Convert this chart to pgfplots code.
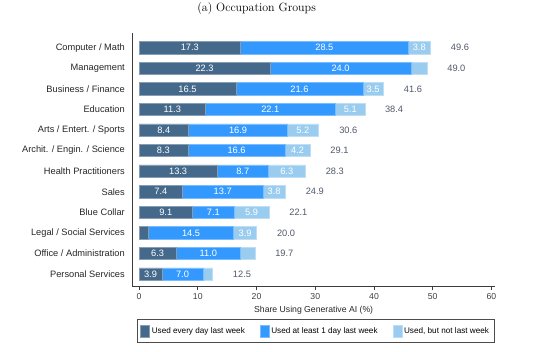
\documentclass[border=0pt]{standalone}
\usepackage{fontspec}
\usepackage{pgfplots}
\usepackage{pgfplotstable}
\pgfplotsset{compat=1.18}
\newfontfamily\arial{Liberation Sans}
\definecolor{cDark}{RGB}{69,105,139}
\definecolor{cMid}{RGB}{51,153,255}
\definecolor{cLight}{RGB}{153,204,238}
\definecolor{cTot}{RGB}{80,88,105}
\definecolor{cAxis}{RGB}{60,60,60}

\pgfplotstableread{
y a b c tot
11 17.3 28.5 3.8 49.6
10 22.3 24.0 2.7 49.0
9 16.5 21.6 3.5 41.6
8 11.3 22.1 5.1 38.4
7 8.4 16.9 5.2 30.6
6 8.3 16.6 4.2 29.1
5 13.3 8.7 6.3 28.3
4 7.4 13.7 3.8 24.9
3 9.1 7.1 5.9 22.1
2 1.6 14.5 3.9 20.0
1 6.3 11.0 2.4 19.7
0 3.9 7.0 1.6 12.5
}\occdata

\pgfplotsset{
  geom/.style={
    anchor=south west,
    scale only axis, width=362.7bp, height=253bp,
    xmin=-1.15, xmax=60.6, ymin=-0.583, ymax=11.714,
  },
  /pgf/number format/assume math mode=true,
}

\begin{document}
\begin{tikzpicture}[x=1bp,y=1bp]
\path[use as bounding box] (-132.3,-65) rectangle (421.7,286);
\node[font=\fontsize{12}{14}\selectfont] at (124.3,277.6) {(a) Occupation Groups};

\begin{axis}[geom,
  xbar stacked, bar width=0.6,
  axis x line*=bottom, axis y line*=left,
  axis line style={cAxis, line width=0.6bp},
  xtick={0,10,...,60}, tick align=outside, major tick length=4bp,
  xtick style={cAxis, line width=0.6bp},
  ytick={0,...,11}, ytick style={draw=none},
  yticklabels={Personal Services, Office / Administration, Legal / Social Services, Blue Collar, Sales, Health Practitioners, Archit. / Engin. / Science, Arts / Entert. / Sports, Education, Business / Finance, Management, Computer / Math},
  yticklabel style={font=\arial\fontsize{9.3}{11}\selectfont, text=black!85},
  xticklabel style={font=\arial\fontsize{8.7}{10}\selectfont, text=black!75},
  xlabel={Share Using Generative AI (\%)},
  xlabel style={font=\arial\fontsize{8.7}{10}\selectfont, text=black!85},
  legend columns=3, legend cell align=left,
  legend style={at={(0.5055,-0.177)}, anchor=center, draw=black!70, line width=0.7bp,
    font=\arial\fontsize{8.2}{10}\selectfont,
    /tikz/every even column/.append style={column sep=13bp},
    inner xsep=3bp, inner ysep=5bp},
  legend image code/.code={\path[#1] (0bp,-6bp) rectangle (9bp,6bp);},
]
\addplot[fill=cDark, draw=white!35!cDark, line width=0.5bp] table[x=a, y=y] {\occdata};
\addplot[fill=cMid, draw=white!35!cMid, line width=0.5bp] table[x=b, y=y] {\occdata};
\addplot[fill=cLight, draw=white!35!cLight, line width=0.5bp] table[x=c, y=y] {\occdata};
\legend{Used every day last week, Used at least 1 day last week, {Used, but not last week}}
\end{axis}

\begin{axis}[geom, hide axis, clip=false,
  point meta=explicit,
  nodes near coords={\pgfmathprintnumber[fixed,fixed zerofill,precision=1]{\pgfplotspointmeta}},
  nodes near coords align={anchor=center},
  every node near coord/.append style={font=\arial\fontsize{9.3}{11}\selectfont, text=white, anchor=center},
]
\addplot[only marks, mark=none, skip coords between index={9}{10}]
  table[x expr=\thisrow{a}/2, y=y, meta=a] {\occdata};
\addplot[only marks, mark=none]
  table[x expr=\thisrow{a}+\thisrow{b}/2, y=y, meta=b] {\occdata};
\addplot[only marks, mark=none,
  skip coords between index={1}{2}, skip coords between index={10}{12}]
  table[x expr=\thisrow{a}+\thisrow{b}+\thisrow{c}/2, y=y, meta=c] {\occdata};
\addplot[only marks, mark=none,
  every node near coord/.append style={text=cTot, xshift=29.5bp}]
  table[x=tot, y=y, meta=tot] {\occdata};
\end{axis}
\end{tikzpicture}
\end{document}
